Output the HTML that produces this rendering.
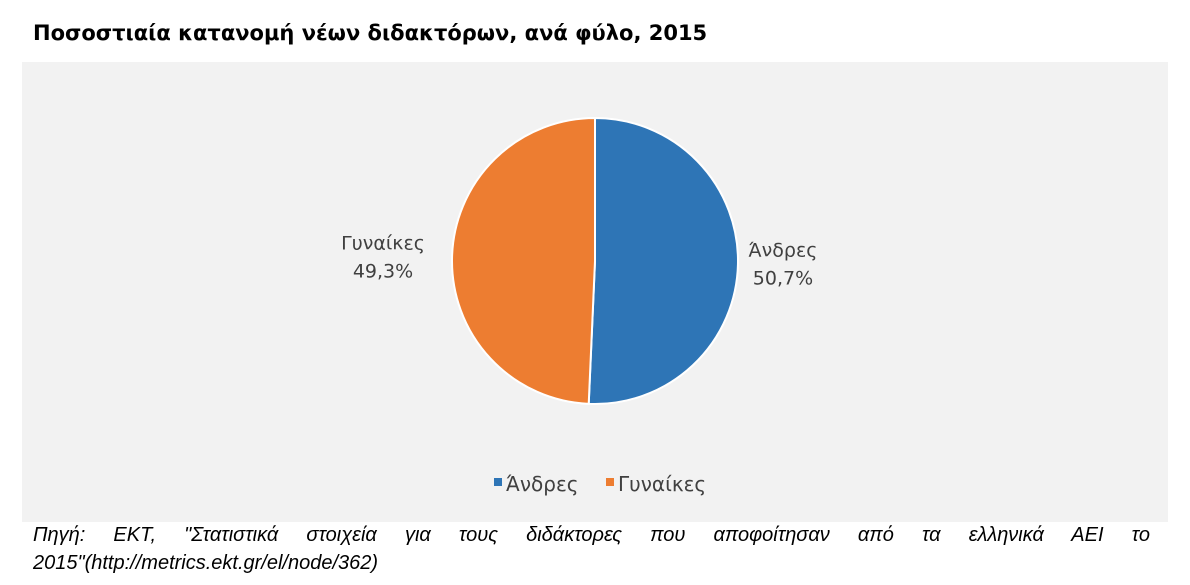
<!DOCTYPE html>
<html><head><meta charset="utf-8"><style>
body{margin:0;width:1190px;height:585px;background:#fff;position:relative;overflow:hidden;font-family:"Liberation Sans","DejaVu Sans",sans-serif}
#title{position:absolute;left:33px;top:21px;font-family:"DejaVu Sans",sans-serif;font-weight:bold;font-size:21px;color:#000}
#bg{position:absolute;left:22px;top:62px;width:1146px;height:460px;background:#f2f2f2}
#src{position:absolute;left:33px;top:521px;width:1117px;font-style:italic;font-size:20px;line-height:28px;text-align:justify;text-align-last:left;color:#000}
</style></head><body>
<div id="title">Ποσοστιαία κατανομή νέων διδακτόρων, ανά φύλο, 2015</div>
<div id="bg"></div>
<svg id="chart" width="1190" height="585" style="position:absolute;left:0;top:0"></svg>
<div id="src">Πηγή: ΕΚΤ, "Στατιστικά στοιχεία για τους διδάκτορες που αποφοίτησαν από τα ελληνικά ΑΕΙ το <span style="white-space:nowrap">2015"(http://metrics.ekt.gr/el/node/362)</span></div>
<script>
const categories=["Άνδρες","Γυναίκες"];
const values=[50.7,49.3];
const labels=["50,7%","49,3%"];
const colors=["#2e75b6","#ed7d31"];
const ns="http://www.w3.org/2000/svg";
const svg=document.getElementById('chart');
const cx=595,cy=261,r=143;
const total=values.reduce((a,b)=>a+b,0);
let ang=-Math.PI/2;
function pt(a,rr){return [cx+rr*Math.cos(a),cy+rr*Math.sin(a)];}
values.forEach((v,i)=>{
  const a2=ang+v/total*2*Math.PI;
  const p1=pt(ang,r),p2=pt(a2,r);
  const large=(a2-ang)>Math.PI?1:0;
  const path=document.createElementNS(ns,'path');
  path.setAttribute('d',`M${cx},${cy}L${p1[0]},${p1[1]}A${r},${r} 0 ${large} 1 ${p2[0]},${p2[1]}Z`);
  path.setAttribute('fill',colors[i]);path.setAttribute('stroke','#fff');path.setAttribute('stroke-width','2');
  
  
  svg.appendChild(path);
  const mid=(ang+a2)/2;
  const right=Math.cos(mid)>=0;
  const lp=pt(mid,r+(right?8:18));
  const cxl=right?lp[0]+37:lp[0]-51;
  const t=document.createElementNS(ns,'text');
  t.setAttribute('x',cxl);t.setAttribute('y',lp[1]-8);
  t.setAttribute('text-anchor','middle');t.setAttribute('font-size','19');t.setAttribute('fill','#404040');
  t.setAttribute('font-family','"DejaVu Sans",sans-serif');
  
  
  const s1=document.createElementNS(ns,'tspan');s1.setAttribute('x',cxl);s1.textContent=categories[i];
  const s2=document.createElementNS(ns,'tspan');s2.setAttribute('x',cxl);s2.setAttribute('dy','28');s2.textContent=labels[i];
  t.appendChild(s1);t.appendChild(s2);svg.appendChild(t);
  ang=a2;
});
const lx=[494,606];
categories.forEach((c,i)=>{
  const g=document.createElementNS(ns,'g');
  
  
  const rc=document.createElementNS(ns,'rect');
  rc.setAttribute('x',lx[i]);rc.setAttribute('y',478);rc.setAttribute('width',8);rc.setAttribute('height',8);rc.setAttribute('fill',colors[i]);
  const t=document.createElementNS(ns,'text');
  t.setAttribute('x',lx[i]+12);t.setAttribute('y',491);t.setAttribute('font-size','20');t.setAttribute('fill','#404040');
  t.setAttribute('font-family','"DejaVu Sans",sans-serif');
  t.textContent=c;
  g.appendChild(rc);g.appendChild(t);svg.appendChild(g);
});
</script>
</body></html>
